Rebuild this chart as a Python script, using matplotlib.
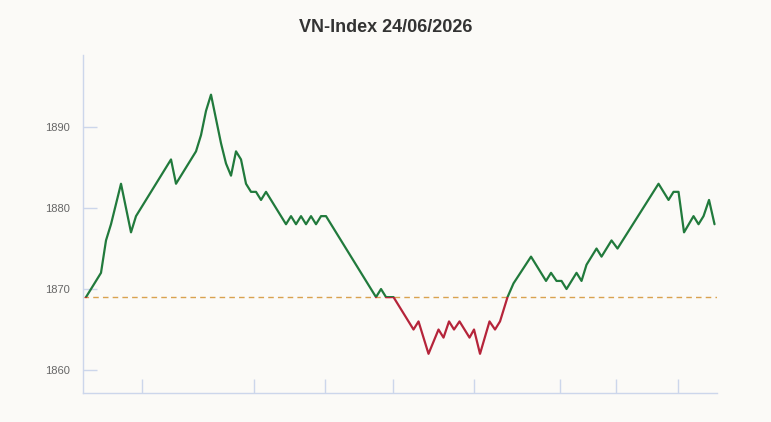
import matplotlib.pyplot as plt
from matplotlib.patches import Rectangle

plt.rcParams['font.family'] = ['Liberation Sans', 'DejaVu Sans']

# intraday points (x = sample index, y = index value)
x_idx = [0, 2, 3, 4, 5, 7, 9, 10, 17, 18, 19, 20, 21, 22, 23, 24, 25, 26, 27, 28, 29, 30,
         31, 32, 33, 34, 35, 36, 37, 38, 39, 40, 41, 42, 43, 44, 45, 46, 47, 48, 58, 59, 60, 61.5,
         65.5, 66.5, 68.5, 70.5, 71.5, 72.6, 73.6, 74.7, 76.7, 77.6, 78.8, 80.7, 81.8, 82.8,
         84.3, 85.5, 89, 92, 93, 94.1, 95.1, 96.1, 98.1, 99.1, 100.1, 101.1, 102.1, 103.1,
         105.1, 106.3, 114.5, 116.5, 117.5, 118.5, 119.6, 121.5, 122.5, 123.5, 124.6, 125.7]
values = [1869, 1871, 1872, 1876, 1878, 1883, 1877, 1879, 1886, 1883, 1884, 1885, 1886, 1887,
          1889, 1892, 1894, 1891, 1888, 1885.5, 1884, 1887,
          1886, 1883, 1882, 1882, 1881, 1882, 1881, 1880, 1879, 1878, 1879, 1878, 1879, 1878,
          1879, 1878, 1879, 1879, 1869, 1870, 1869, 1869,
          1865, 1866, 1862, 1865, 1864, 1866, 1865, 1866, 1864, 1865, 1862, 1866, 1865, 1866,
          1869, 1870.7, 1874, 1871, 1872, 1871, 1871, 1870, 1872, 1871, 1873, 1874, 1875, 1874,
          1876, 1875, 1883, 1881, 1882, 1882, 1877, 1879, 1878, 1879, 1881, 1878]

ref_value = 1869
y_ticks = [1860, 1870, 1880, 1890]
x_ticks = [11.2, 33.6, 47.8, 61.3, 77.6, 94.8, 106, 118.4]
title = 'VN-Index 24/06/2026'

bg = '#fbfaf7'
up_color = '#217a3c'
down_color = '#b5243a'
axis_color = '#ccd6eb'

fig = plt.figure(figsize=(7.71, 4.22), dpi=100, facecolor=bg)
ax = fig.add_axes([0.1083, 0.0687, 0.8217, 0.801])
ax.set_facecolor(bg)

ax.set_xlim(-0.5, 126.2)
ax.set_ylim(1857.16, 1898.9)

# reference line
ax.axhline(ref_value, color='#d9a24f', linestyle=(0, (4, 3)), linewidth=1, zorder=1)

# same line drawn twice, clipped above / below the reference
green_line, = ax.plot(x_idx, values, color=up_color, linewidth=1.6, solid_joinstyle='round',
                      solid_capstyle='round', zorder=3)
red_line, = ax.plot(x_idx, values, color=down_color, linewidth=1.6, solid_joinstyle='round',
                    solid_capstyle='round', zorder=3)
above = Rectangle((-10, ref_value), 200, 100, transform=ax.transData, visible=False)
below = Rectangle((-10, ref_value - 100), 200, 100, transform=ax.transData, visible=False)
ax.add_patch(above)
ax.add_patch(below)
green_line.set_clip_path(above)
red_line.set_clip_path(below)

for side in ['top', 'right']:
    ax.spines[side].set_visible(False)
for side in ['left', 'bottom']:
    ax.spines[side].set_color(axis_color)
    ax.spines[side].set_linewidth(1)

ax.set_yticks(y_ticks)
ax.set_yticklabels([str(v) for v in y_ticks])
ax.tick_params(axis='y', direction='in', length=10, width=1, color=axis_color,
               labelsize=8, labelcolor='#666666', pad=10)
ax.set_xticks(x_ticks)
ax.set_xticklabels([])
ax.tick_params(axis='x', direction='in', length=10, width=1, color=axis_color)

fig.text(0.5, 1 - 28 / 422, title, ha='center', va='center', fontsize=13,
         fontweight='bold', color='#333333')

fig.savefig('out.png', dpi=100, facecolor=bg)
